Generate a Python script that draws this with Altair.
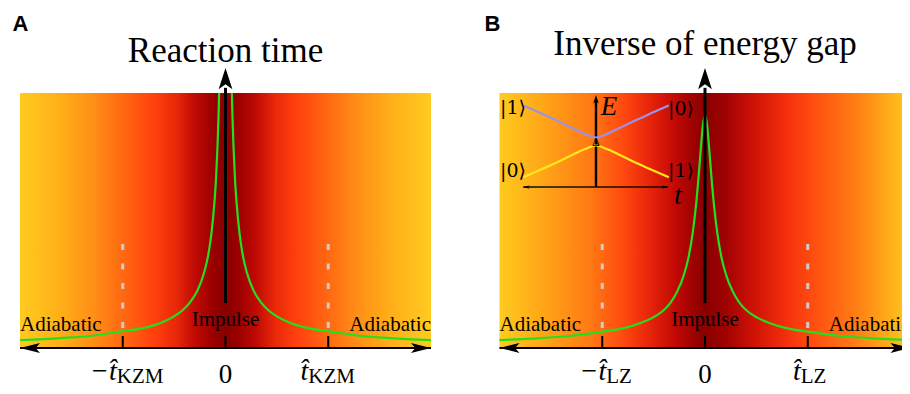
import altair as alt
import pandas as pd

# ---------------- data ----------------
band_t = [-2.0, 2.0]          # coloured band spans -2..2 in time units
band_v = [0.0, 1.0]
tick_t = [-1.0, 0.0, 1.0]     # -t_hat, 0, t_hat
dash_t = [-1.0, 1.0]
dash_v = [0.408, 0.07]        # dashed markers top / bottom

# Panel A: reaction time (left branch; right branch mirrors it)
reaction_t = [-2.0, -1.6, -1.3, -1.0, -0.8, -0.62, -0.5, -0.42, -0.34, -0.27,
              -0.21, -0.17, -0.135, -0.11, -0.092, -0.078, -0.068, -0.062]
reaction_v = [0.031, 0.039, 0.048, 0.066, 0.078, 0.100, 0.124, 0.147, 0.182, 0.228,
              0.293, 0.360, 0.455, 0.560, 0.665, 0.790, 0.905, 1.0]

# Panel B: inverse of energy gap (left half up to the peak)
invgap_t = [-2.0, -1.6, -1.3, -1.0, -0.8, -0.62, -0.5, -0.42, -0.34, -0.27,
            -0.21, -0.16, -0.12, -0.09, -0.065, -0.045, -0.03, -0.015, 0.0]
invgap_v = [0.031, 0.039, 0.048, 0.064, 0.077, 0.099, 0.121, 0.142, 0.175, 0.222,
            0.281, 0.356, 0.450, 0.550, 0.659, 0.760, 0.834, 0.890, 0.914]

# Inset (panel B): two energy levels
inset_t = [-1.768, -1.596, -1.443, -1.282, -1.168, -1.061, -0.954, -0.840, -0.679, -0.526, -0.353]
upper_v = [0.951, 0.920, 0.892, 0.861, 0.839, 0.825, 0.839, 0.861, 0.892, 0.920, 0.951]
lower_v = [0.669, 0.700, 0.727, 0.759, 0.780, 0.794, 0.780, 0.759, 0.727, 0.700, 0.669]
inset_axis_t = [-1.770, -0.360]
inset_axis_v = [0.631, 0.992]
inset_origin_t = -1.061
ket_t = [-1.869, -1.869, -0.234, -0.234]
ket_v = [0.941, 0.694, 0.937, 0.694]
ket_text = ["|1⟩", "|0⟩", "|0⟩", "|1⟩"]

titles = ["Reaction time", "Inverse of energy gap"]
letters = ["A", "B"]
regimes = ["Adiabatic", "Impulse", "Adiabatic"]
tick_main = ["−t̂", "0", "t̂"]
subs_A = ["KZM", "", "KZM"]
subs_B = ["LZ", "", "LZ"]

# ---------------- styling / layout ----------------
SERIF = "Liberation Serif"
YS = alt.Scale(domain=[-0.149, 1.333], nice=False, zero=False)
H = 378

ARROW_UP = "M0,0 L0.55,1.7 L0,1.3 L-0.55,1.7 Z"
ARROW_LEFT = "M0,0 L1.6,-0.4 L1.25,0 L1.6,0.4 Z"
ARROW_RIGHT = "M0,0 L-1.6,-0.4 L-1.25,0 L-1.6,0.4 Z"


def grad(stops):
    return alt.Gradient(gradient="linear", x1=0, x2=1, y1=0, y2=0,
                        stops=[alt.GradientStop(color=c, offset=o) for o, c in stops])


stops_A = [(0.0, "#FFCB1F"), (0.10, "#FFAE18"), (0.18, "#FF8E16"), (0.255, "#FF6612"),
           (0.33, "#FF3E0E"), (0.38, "#E82808"), (0.425, "#C00A04"), (0.47, "#9A0000"),
           (0.5, "#880000"),
           (0.53, "#9A0000"), (0.575, "#C00A04"), (0.62, "#E82808"), (0.67, "#FF3E0E"),
           (0.745, "#FF6612"), (0.82, "#FF8E16"), (0.90, "#FFAE18"), (1.0, "#FFCB1F")]
stops_B = [(0.0, "#FFCB1F"), (0.10, "#FFA818"), (0.22, "#FF7A14"), (0.30, "#FF4A10"),
           (0.365, "#E8240A"), (0.43, "#C00804"), (0.49, "#8E0000"), (0.5, "#880000"),
           (0.55, "#A00202"), (0.62, "#D01206"), (0.70, "#F5300C"), (0.76, "#FF4C10"),
           (0.86, "#FF7A14"), (0.94, "#FFA818"), (1.0, "#FFCB1F")]


def txt(df, **kw):
    return alt.Chart(df).mark_text(clip=True, **kw)


def arrow(df, shape, size):
    return alt.Chart(df).mark_point(shape=shape, size=size, filled=True, color="black",
                                    opacity=1, strokeWidth=0, clip=True)


def panel(idx, xdom, width, curve_t, curve_v, stops, title_v, letter_t, subs, dx_specs):
    xs = alt.Scale(domain=xdom, nice=False, zero=False)
    X = alt.X("t:Q", scale=xs, axis=None)
    Y = alt.Y("v:Q", scale=YS, axis=None)
    layers = []
    band = pd.DataFrame({"t": [band_t[0]], "t2": [band_t[1]], "v": [band_v[0]], "v2": [band_v[1]]})
    layers.append(alt.Chart(band).mark_rect(fill=grad(stops), clip=True)
                  .encode(x=X, x2="t2", y=Y, y2="v2"))
    dashes = pd.DataFrame({"t": dash_t, "v": [dash_v[0]] * 2, "v2": [dash_v[1]] * 2})
    layers.append(alt.Chart(dashes).mark_rule(color="#CCCCCC", strokeWidth=3, strokeDash=[6, 13.5])
                  .encode(x=X, y=Y, y2="v2"))
    rows = []
    for t, v in zip(curve_t, curve_v):
        rows.append({"t": t, "v": v, "b": "L"})
    for t, v in zip(curve_t, curve_v):
        rows.append({"t": -t, "v": v, "b": "R"})
    cdf = pd.DataFrame(rows)
    layers.append(alt.Chart(cdf).mark_line(color="#22E01E", strokeWidth=2.2, interpolate="monotone", clip=True)
                  .encode(x=X, y=Y, detail="b:N", order="t:Q"))
    axis_df = pd.DataFrame({"t": [band_t[0]], "t2": [band_t[1]], "v": [0.0]})
    layers.append(alt.Chart(axis_df).mark_rule(color="black", strokeWidth=2, clip=True)
                  .encode(x=X, x2="t2", y=Y))
    ticks = pd.DataFrame({"t": tick_t, "v": [0.0] * 3, "v2": [0.047] * 3})
    layers.append(alt.Chart(ticks).mark_rule(color="black", strokeWidth=2)
                  .encode(x=X, y=Y, y2="v2"))
    layers.append(arrow(pd.DataFrame({"t": [band_t[0]], "v": [0.0]}), ARROW_LEFT, 625).encode(x=X, y=Y))
    layers.append(arrow(pd.DataFrame({"t": [band_t[1]], "v": [0.0]}), ARROW_RIGHT, 625).encode(x=X, y=Y))
    layers.append(alt.Chart(pd.DataFrame({"t": [0.0], "v": [0.176], "v2": [1.02]}))
                  .mark_rule(color="black", strokeWidth=3).encode(x=X, y=Y, y2="v2"))
    layers.append(arrow(pd.DataFrame({"t": [0.0], "v": [1.098]}), ARROW_UP, 625).encode(x=X, y=Y))
    layers.append(txt(pd.DataFrame({"t": [0.0], "v": [title_v], "s": [titles[idx]]}),
                      font=SERIF, fontSize=35, align="center", baseline="alphabetic", color="black")
                  .encode(x=X, y=Y, text="s:N"))
    layers.append(txt(pd.DataFrame({"t": [letter_t], "v": [1.243], "s": [letters[idx]]}),
                      font="Liberation Sans", fontWeight="bold", fontSize=22, align="center",
                      baseline="alphabetic", color="black")
                  .encode(x=X, y=Y, text="s:N"))
    layers.append(txt(pd.DataFrame({"t": [band_t[0]], "v": [0.0647], "s": [regimes[0]]}),
                      font=SERIF, fontSize=21, align="left", baseline="alphabetic", color="black")
                  .encode(x=X, y=Y, text="s:N"))
    layers.append(txt(pd.DataFrame({"t": [0.0], "v": [0.088], "s": [regimes[1]]}),
                      font=SERIF, fontSize=21, align="center", baseline="alphabetic", color="black")
                  .encode(x=X, y=Y, text="s:N"))
    layers.append(txt(pd.DataFrame({"t": [band_t[1]], "v": [0.0647], "s": [regimes[2]]}),
                      font=SERIF, fontSize=21, align="right", baseline="alphabetic", color="black")
                  .encode(x=X, y=Y, text="s:N"))
    for i, t in enumerate(tick_t):
        if subs[i] == "":
            layers.append(txt(pd.DataFrame({"t": [t], "v": [-0.139], "s": [tick_main[i]]}),
                              font=SERIF, fontSize=27, align="center", baseline="alphabetic", color="black")
                          .encode(x=X, y=Y, text="s:N"))
        else:
            dx = dx_specs[i]
            layers.append(txt(pd.DataFrame({"t": [t], "v": [-0.125], "s": [tick_main[i]]}),
                              font=SERIF, fontSize=28, fontStyle="italic", align="right",
                              baseline="alphabetic", color="black", dx=dx)
                          .encode(x=X, y=Y, text="s:N"))
            layers.append(txt(pd.DataFrame({"t": [t], "v": [-0.139], "s": [subs[i]]}),
                              font=SERIF, fontSize=21, align="left",
                              baseline="alphabetic", color="black", dx=dx)
                          .encode(x=X, y=Y, text="s:N"))
    if idx == 1:
        up = pd.DataFrame({"t": inset_t, "v": upper_v})
        lo = pd.DataFrame({"t": inset_t, "v": lower_v})
        layers.append(alt.Chart(pd.DataFrame({"t": [inset_axis_t[0]], "t2": [inset_axis_t[1]], "v": [inset_axis_v[0]]}))
                      .mark_rule(color="#1a0a00", strokeWidth=1.6).encode(x=X, x2="t2", y=Y))
        layers.append(alt.Chart(pd.DataFrame({"t": [inset_origin_t], "v": [inset_axis_v[0]], "v2": [inset_axis_v[1] - 0.02]}))
                      .mark_rule(color="black", strokeWidth=2.4).encode(x=X, y=Y, y2="v2"))
        layers.append(arrow(pd.DataFrame({"t": [inset_origin_t], "v": [inset_axis_v[1]]}), ARROW_UP, 100)
                      .encode(x=X, y=Y))
        layers.append(arrow(pd.DataFrame({"t": [inset_axis_t[0]], "v": [inset_axis_v[0]]}), ARROW_LEFT, 64)
                      .encode(x=X, y=Y))
        layers.append(arrow(pd.DataFrame({"t": [inset_axis_t[1]], "v": [inset_axis_v[0]]}), ARROW_RIGHT, 64)
                      .encode(x=X, y=Y))
        layers.append(alt.Chart(up).mark_line(color="#9C92E4", strokeWidth=2.2, interpolate="monotone")
                      .encode(x=X, y=Y))
        layers.append(alt.Chart(lo).mark_line(color="#FFE81A", strokeWidth=2.2, interpolate="monotone")
                      .encode(x=X, y=Y))
        layers.append(txt(pd.DataFrame({"t": [inset_origin_t], "v": [0.808], "s": ["Δ"]}),
                          font=SERIF, fontSize=12, align="center", baseline="middle", color="black")
                      .encode(x=X, y=Y, text="s:N"))
        layers.append(txt(pd.DataFrame({"t": ket_t, "v": ket_v, "s": ket_text}),
                          font="DejaVu Serif", fontSize=19, align="center", baseline="middle", color="black")
                      .encode(x=X, y=Y, text="s:N"))
        layers.append(txt(pd.DataFrame({"t": [-0.934], "v": [0.943], "s": ["E"]}),
                          font=SERIF, fontSize=27, fontStyle="italic", align="center", baseline="middle", color="black")
                      .encode(x=X, y=Y, text="s:N"))
        layers.append(txt(pd.DataFrame({"t": [-0.263], "v": [0.596], "s": ["t"]}),
                          font=SERIF, fontSize=27, fontStyle="italic", align="center", baseline="middle", color="black")
                      .encode(x=X, y=Y, text="s:N"))
    return alt.layer(*layers).properties(width=width, height=H)


pA = panel(0, [-2.1168, 2.3601], 460, reaction_t, reaction_v, stops_A, 1.122, -1.995, subs_A,
           {0: -6, 2: -20})
pB = panel(1, [-2.3066, 1.9173], 434, invgap_t, invgap_v, stops_B, 1.149, -2.068, subs_B,
           {0: 4, 2: -7})

chart = (alt.hconcat(pA, pB, spacing=0, bounds="flush")
         .properties(padding=0)
         .configure_view(stroke=None))

chart.save("out.html", embed_options={"renderer": "svg", "actions": False})
